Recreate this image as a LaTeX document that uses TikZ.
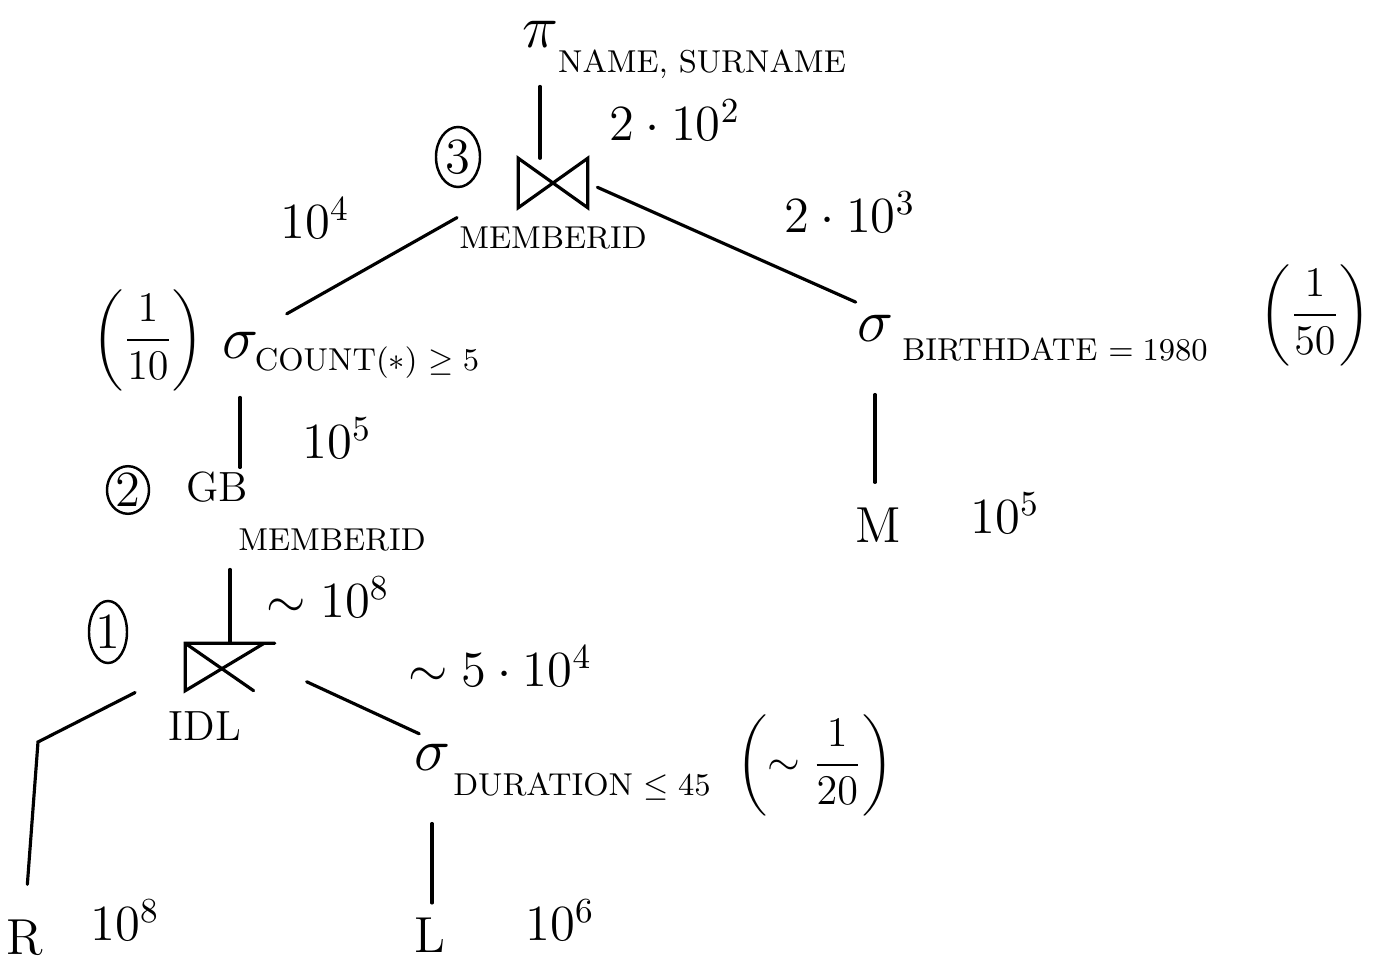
\documentclass[tikz,border=0pt]{standalone}
\usepackage{amsmath, amssymb}
\usepackage{tikz}
\usetikzlibrary{calc, shapes.geometric, positioning}

\begin{document}
\begin{tikzpicture}[x=0.01cm, y=-0.01cm, line cap=round,
    edge/.style={line width=0.9pt},
    attr/.style={font=\small, inner sep=1pt},
    card/.style={font=\Large, inner sep=1pt},
    frac/.style={font=\normalsize, inner sep=1pt},
    opsym/.style={font=\LARGE, inner sep=1pt},
    rel/.style={font=\Large, inner sep=1pt},
    stepno/.style={draw, ellipse, line width=0.7pt, font=\Large, inner sep=0pt},
    joinbox/.style={minimum width=0.68cm, minimum height=0.48cm, inner sep=0pt}]

    \useasboundingbox (0,0) rectangle (1378,961);

    % =================================================================
    % 1. PROJECTION AND TOP JOIN ON MEMBERID
    % =================================================================
    \node[opsym] (pi) at (540,34) {$\pi$};
    \node[attr] (pisub) at (702,64) {NAME, SURNAME};
    \node[card] (c2e2) at (675,120) {$2\cdot 10^{2}$};

    \node[joinbox] (j3) at (553,183) {};
    \draw[edge] (j3.north west) -- (j3.south east) -- (j3.north east) -- (j3.south west) -- cycle;
    \node[attr] (j3attr) at (553,238) {MEMBERID};
    \node[stepno, minimum width=0.44cm, minimum height=0.6cm] (step3) at (458,157) {3};

    \node[card] (c1e4) at (315,218) {$10^{4}$};
    \node[card] (c2e3) at (850,212) {$2\cdot 10^{3}$};

    % =================================================================
    % 2. LEFT BRANCH: SELECTION ON COUNT AND GROUP BY
    % =================================================================
    \node[frac] (sel1) at (148,340) {\large$\left(\dfrac{1}{10}\right)$};
    \node[opsym] (sigc) at (240,345) {$\sigma$};
    \node[attr] (condc) at (367,363) {COUNT($*$) $\geq 5$};
    \node[card] (c1e5a) at (337,438) {$10^{5}$};

    \node[stepno, minimum width=0.42cm, minimum height=0.42cm] (step2) at (128,490) {2};
    \node[font=\large, inner sep=1pt] (gb) at (217,487) {GB};
    \node[attr] (gbsub) at (332,540) {MEMBERID};
    \node[card] (c1e8a) at (328,597) {$\sim 10^{8}$};

    % =================================================================
    % 3. LOWER JOIN (IDL) WITH R AND SELECTION ON L
    % =================================================================
    \node[stepno, minimum width=0.38cm, minimum height=0.62cm] (step1) at (108,632) {1};
    \node[joinbox, minimum width=0.88cm, minimum height=0.46cm] (idl) at (230,667) {};
    \draw[edge] (idl.north east) -- (idl.north west) -- (idl.south west) -- ([xshift=-3pt]idl.north east);
    \draw[edge] (idl.north west) -- ([xshift=-6pt]idl.south east);
    \node[font=\large, inner sep=1pt] (idlname) at (205,726) {IDL};
    \node[card] (c5e4) at (500,666) {$\sim 5\cdot 10^{4}$};

    \coordinate (kink) at (38,742);
    \node[rel] (R) at (25,938) {R};
    \node[card] (c1e8b) at (125,920) {$10^{8}$};

    \node[opsym] (sigd) at (432,757) {$\sigma$};
    \node[attr] (condd) at (582,787) {DURATION $\leq 45$};
    \node[frac] (sel3) at (815,765) {\large$\left(\sim\dfrac{1}{20}\right)$};
    \node[rel] (L) at (430,935) {L};
    \node[card] (c1e6) at (560,920) {$10^{6}$};

    % =================================================================
    % 4. RIGHT BRANCH: SELECTION ON BIRTHDATE OVER M
    % =================================================================
    \node[opsym] (sigb) at (875,328) {$\sigma$};
    \node[attr] (condb) at (1055,350) {BIRTHDATE $= 1980$};
    \node[frac] (sel2) at (1315,315) {\large$\left(\dfrac{1}{50}\right)$};
    \node[rel] (M) at (878,525) {M};
    \node[card] (c1e5b) at (1005,513) {$10^{5}$};

    % =================================================================
    % 5. TREE EDGES
    % =================================================================
    \draw[edge, shorten <=10pt] (pi.south) -- (pi.south |- j3.north);
    \draw[edge, shorten <=20pt, shorten >=8pt] (j3.west) -- (sigc.north east);
    \draw[edge, shorten <=3pt, shorten >=6pt] (j3.east) -- (sigb.north);
    \draw[edge, shorten <=10pt] (sigc.south) -- (sigc.south |- gb.north);
    \draw[edge, shorten <=4pt] (gbsub.south -| idl.north) -- (idl.north);
    \draw[edge, shorten <=16pt, shorten >=9pt] (idl.west) -- (kink) -- (R.north);
    \draw[edge, shorten <=10pt, shorten >=4pt] (idl.east) -- (sigd.north);
    \draw[edge, shorten <=14pt, shorten >=3pt] (sigd.south) -- (sigd.south |- L.north);
    \draw[edge, shorten <=14pt, shorten >=6pt] (sigb.south) -- (sigb.south |- M.north);

\end{tikzpicture}
\end{document}
